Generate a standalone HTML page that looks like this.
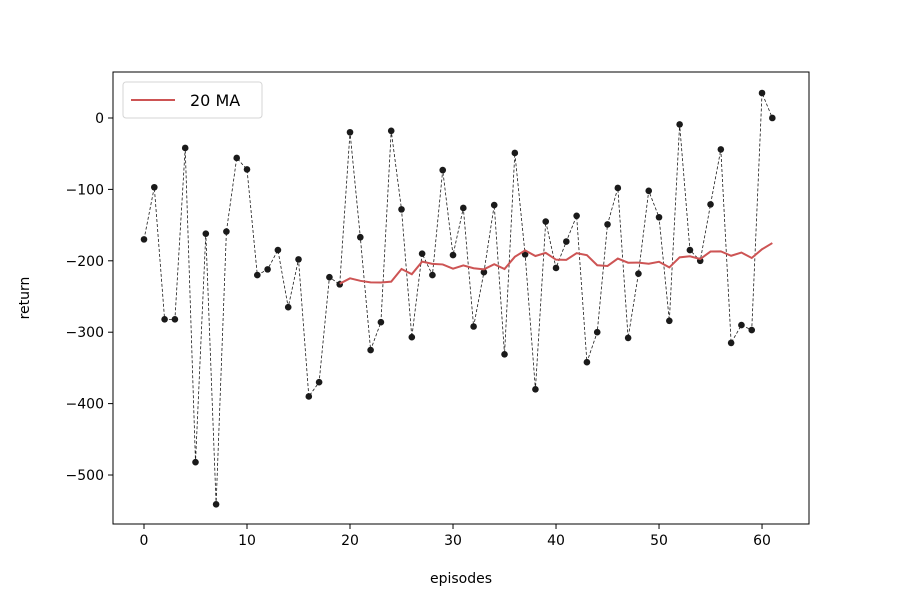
<!DOCTYPE html>
<html><head><meta charset="utf-8"><style>
body{margin:0;background:#fff}
svg{display:block;font-family:"DejaVu Sans","Liberation Sans",sans-serif}
</style></head><body>
<svg id="chart" width="900" height="600">
<rect x="0" y="0" width="900" height="600" fill="#fff"/>
<g id="marks"></g>
<g id="axes"></g>
</svg>
<script>
const returns = [-170,-97,-282,-282,-42,-482,-162,-541,-159,-56,-72,-220,-212,-185,-265,-198,-390,-370,-223,-233,-20,-167,-325,-286,-18,-128,-307,-190,-220,-73,-192,-126,-292,-216,-122,-331,-49,-191,-380,-145,-210,-173,-137,-342,-300,-149,-98,-308,-218,-102,-139,-284,-9,-185,-200,-121,-44,-315,-290,-297,35,0];
const xTicks = [0,10,20,30,40,50,60];
const yTicks = [0,-100,-200,-300,-400,-500];
const maWindow = 20;

const L=113,R=809,T=72,B=524;
const xMin=-3.01,xMax=64.56,yMin=-568.6,yMax=64.4;
const sx=v=>L+(v-xMin)/(xMax-xMin)*(R-L);
const sy=v=>B-(v-yMin)/(yMax-yMin)*(B-T);
const NS="http://www.w3.org/2000/svg";
function mk(tag,attrs,parent){const e=document.createElementNS(NS,tag);for(const k in attrs)e.setAttribute(k,attrs[k]);parent.appendChild(e);return e;}
const marks=document.getElementById('marks'),axes=document.getElementById('axes');

const raw=mk('polyline',{points:returns.map((v,i)=>sx(i)+','+sy(v)).join(' '),fill:'none',stroke:'#1a1a1a','stroke-width':0.8,'stroke-dasharray':'3,2'},marks);


returns.forEach((v,i)=>{
  const c=mk('circle',{cx:sx(i),cy:sy(v),r:3.3,fill:'#1a1a1a'},marks);
  
  
});
const ma=[];
for(let i=maWindow-1;i<returns.length;i++){let s=0;for(let j=i-maWindow+1;j<=i;j++)s+=returns[j];ma.push([i,s/maWindow]);}
const maLine=mk('polyline',{points:ma.map(p=>sx(p[0])+','+sy(p[1])).join(' '),fill:'none',stroke:'#cd5454','stroke-width':2},marks);



const frame=mk('rect',{x:L,y:T,width:R-L,height:B-T,fill:'none',stroke:'#000','stroke-width':1},axes);


xTicks.forEach(t=>{
  mk('line',{x1:sx(t),x2:sx(t),y1:B,y2:B+5,stroke:'#000'},axes);
  const tx=mk('text',{x:sx(t),y:B+21,'text-anchor':'middle','font-size':14},axes);
  tx.textContent=String(t);
  
  
});
yTicks.forEach(t=>{
  mk('line',{x1:L-5,x2:L,y1:sy(t),y2:sy(t),stroke:'#000'},axes);
  const tx=mk('text',{x:L-9,y:sy(t)+5,'text-anchor':'end','font-size':14},axes);
  tx.textContent=t<0?'\u2212'+(-t):String(t);
  
  
});
const xl=mk('text',{x:(L+R)/2,y:583,'text-anchor':'middle','font-size':14},axes);
xl.textContent='episodes';


const yl=mk('text',{x:0,y:0,'text-anchor':'middle','font-size':14,transform:'translate(29,'+((T+B)/2)+') rotate(-90)'},axes);
yl.textContent='return';



const lg=mk('g',{},axes);


mk('rect',{x:123,y:82,width:139,height:36,rx:3,fill:'#fff',stroke:'#d5d5d5','stroke-width':1},lg);
mk('line',{x1:131,x2:175,y1:100,y2:100,stroke:'#cd5454','stroke-width':2},lg);
const lt=mk('text',{x:190,y:106,'font-size':16},lg);
lt.textContent='20 MA';


</script>
</body></html>
